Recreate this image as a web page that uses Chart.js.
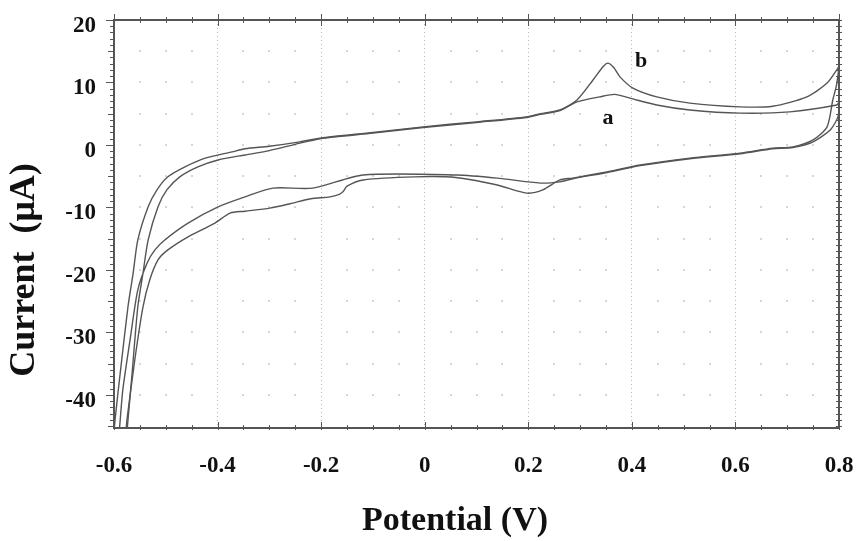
<!DOCTYPE html>
<html>
<head>
<meta charset="utf-8">
<title>Cyclic voltammogram</title>
<script src="https://cdn.jsdelivr.net/npm/chart.js@4.4.0/dist/chart.umd.min.js"></script>
<style>
  html, body { margin: 0; padding: 0; background: #fff; }
</style>
</head>
<body>
<canvas id="cvChart" width="859" height="541"></canvas>
<script>
// Curve a: forward scan (-0.6 -> 0.8 V) then reverse scan back
const potentialA = [
  -0.590, -0.588, -0.583, -0.569, -0.554, -0.536, -0.521, -0.502, -0.457, -0.399,
  -0.347, -0.293, -0.216, -0.119, 0.062, 0.140, 0.223, 0.261, 0.286, 0.352,
  0.416, 0.512, 0.609, 0.672, 0.711, 0.750, 0.783, 0.798, 0.800,
  0.796, 0.705, 0.609, 0.512, 0.448, 0.396, 0.367, 0.338, 0.294, 0.261,
  0.223, 0.197, 0.100, -0.003, -0.100, -0.202, -0.250, -0.300, -0.347, -0.399,
  -0.438, -0.473, -0.498, -0.515, -0.534, -0.544, -0.554, -0.565, -0.573, -0.575
];
const currentA = [
  -46, -44, -39.2, -31.2, -23.2, -18.9, -16.8, -15.2, -12.5, -9.9,
  -8.3, -6.9, -6.9, -4.8, -4.8, -5.3, -6.1, -5.9, -5.4, -4.4,
  -3.3, -2.2, -1.4, -0.6, -0.4, 0.5, 2.4, 4.5, 6.8,
  6.4, 5.3, 5.1, 5.6, 6.4, 7.5, 8.1, 7.7, 6.9, 5.5,
  4.9, 4.4, 3.6, 2.8, 1.9, 1.0, 0.1, -0.9, -1.6, -2.4,
  -3.5, -5.1, -7.2, -9.9, -15.2, -20.5, -25.9, -36.5, -44, -46
];

// Curve b: same loop with the redox peaks
const potentialB = [
  -0.600, -0.598, -0.588, -0.573, -0.563, -0.554, -0.534, -0.517, -0.496, -0.463,
  -0.424, -0.372, -0.347, -0.300, -0.241, -0.202, -0.100, -0.003, 0.100, 0.197,
  0.223, 0.261, 0.294, 0.325, 0.345, 0.354, 0.365, 0.377, 0.402, 0.448,
  0.512, 0.609, 0.672, 0.738, 0.777, 0.798, 0.800,
  0.795, 0.788, 0.777, 0.750, 0.711, 0.672, 0.609, 0.512, 0.416, 0.352,
  0.286, 0.261, 0.228, 0.197, 0.140, 0.060, -0.020, -0.119, -0.150, -0.158,
  -0.165, -0.183, -0.220, -0.260, -0.299, -0.347, -0.376, -0.405, -0.457, -0.496,
  -0.515, -0.531, -0.544, -0.559, -0.575, -0.577
];
const currentB = [
  -46, -44, -36.5, -25.9, -20.5, -15.2, -9.9, -7.2, -5.1, -3.5,
  -2.1, -1.1, -0.6, -0.2, 0.5, 1.1, 2.0, 2.9, 3.7, 4.5,
  5.0, 5.6, 7.2, 10.4, 12.6, 13.1, 12.4, 10.9, 9.1, 7.7,
  6.7, 6.1, 6.2, 7.7, 9.9, 12.3, 12.6,
  9.5, 7.2, 2.9, 0.8, -0.3, -0.5, -1.3, -2.1, -3.2, -4.3,
  -5.3, -5.6, -7.2, -7.7, -6.4, -5.2, -5.1, -5.6, -6.6, -7.5,
  -7.9, -8.3, -8.6, -9.4, -10.1, -10.6, -10.9, -12.5, -14.7, -16.8,
  -18.4, -21.6, -25.9, -33.9, -44, -46
];

// Axis ticks
const potentialTicks = [-0.6, -0.4, -0.2, 0, 0.2, 0.4, 0.6, 0.8];
const currentTicks = [-40, -30, -20, -10, 0, 10, 20];

// Curve labels (data coordinates)
const curveNames = ['a', 'b'];
const curveNameX = [0.354, 0.418];
const curveNameY = [4.2, 13.4];

const serif = '"Liberation Serif", "Times New Roman", serif';

function toPoints(xs, ys) {
  return xs.map((x, i) => ({ x: x, y: ys[i] }));
}

function fmt(v) {
  const r = Math.round(v * 10) / 10;
  return r === 0 ? '0' : String(r);
}

// Frame, minor ticks, faint dot grid, titles and curve names
const decorations = {
  id: 'decorations',
  beforeDatasetsDraw(chart) {
    const { ctx, scales } = chart;
    const x = scales.x, y = scales.y;
    ctx.save();
    ctx.fillStyle = '#d6d6d6';
    for (let i = 1; i < 28; i++) {
      if (i % 4 === 0) continue;
      const px = Math.round(x.getPixelForValue(-0.6 + i * 0.05));
      for (let c = -40; c < 20; c += 5) {
        const py = Math.round(y.getPixelForValue(c));
        ctx.fillRect(px - 1, py - 1, 2, 2);
      }
    }
    ctx.restore();
  },
  afterDatasetsDraw(chart) {
    const { ctx, chartArea, scales } = chart;
    const { left, right, top, bottom } = chartArea;
    const x = scales.x, y = scales.y;
    ctx.save();
    ctx.strokeStyle = '#555';
    ctx.lineWidth = 2;
    ctx.strokeRect(left, top, right - left, bottom - top);

    ctx.lineWidth = 1;
    ctx.beginPath();
    for (let i = 0; i <= 28; i++) {
      const px = Math.round(x.getPixelForValue(-0.6 + i * 0.05)) + 0.5;
      const len = i % 4 === 0 ? 6 : 3;
      ctx.moveTo(px, top - len); ctx.lineTo(px, top + len);
      ctx.moveTo(px, bottom - len); ctx.lineTo(px, bottom + 2);
    }
    for (let c = -45; c <= 20; c++) {
      const py = Math.round(y.getPixelForValue(c)) + 0.5;
      const len = c % 10 === 0 ? 8 : (c % 5 === 0 ? 6 : 4);
      ctx.moveTo(left - len, py); ctx.lineTo(left, py);
      ctx.moveTo(right - 3, py); ctx.lineTo(right + 3, py);
    }
    ctx.stroke();

    ctx.fillStyle = '#111';
    ctx.textAlign = 'center';
    ctx.textBaseline = 'middle';
    ctx.font = 'bold 22px ' + serif;
    curveNames.forEach((n, i) => {
      ctx.fillText(n, x.getPixelForValue(curveNameX[i]), y.getPixelForValue(curveNameY[i]));
    });

    ctx.font = 'bold 34px ' + serif;
    ctx.fillText('Potential (V)', 455, 521);
    ctx.translate(25, 270);
    ctx.rotate(-Math.PI / 2);
    ctx.font = 'bold 36px ' + serif;
    ctx.fillText('Current  (\u03bcA)', 0, 0);
    ctx.restore();
  }
};

const lineStyle = {
  borderColor: '#555',
  borderWidth: 1.4,
  pointRadius: 0,
  showLine: true,
  fill: false,
  tension: 0.25
};

new Chart(document.getElementById('cvChart').getContext('2d'), {
  type: 'scatter',
  data: {
    datasets: [
      Object.assign({ label: 'a', data: toPoints(potentialA, currentA) }, lineStyle),
      Object.assign({ label: 'b', data: toPoints(potentialB, currentB) }, lineStyle)
    ]
  },
  options: {
    responsive: false,
    animation: false,
    layout: { padding: { top: 20, right: 20, left: 0, bottom: 0 } },
    plugins: { legend: { display: false }, tooltip: { enabled: false } },
    scales: {
      x: {
        type: 'linear',
        min: -0.6,
        max: 0.8,
        afterFit: s => { s.height = 113; s.paddingLeft = 0; s.paddingRight = 0; },
        afterBuildTicks: s => { s.ticks = potentialTicks.map(v => ({ value: v })); },
        grid: { color: '#b8b8b8', lineWidth: 1, drawTicks: false },
        border: { display: false, dash: [1, 3] },
        ticks: {
          padding: 24,
          color: '#111',
          font: { family: serif, size: 23, weight: 'bold' },
          maxRotation: 0,
          callback: v => fmt(v)
        }
      },
      y: {
        type: 'linear',
        min: -45.3,
        max: 20,
        afterFit: s => { s.width = 114; s.paddingTop = 0; s.paddingBottom = 0; },
        afterBuildTicks: s => { s.ticks = currentTicks.map(v => ({ value: v })); },
        grid: { display: false, drawTicks: false },
        border: { display: false },
        ticks: {
          padding: 18,
          labelOffset: 6,
          color: '#111',
          font: { family: serif, size: 23, weight: 'bold' },
          callback: v => String(v)
        }
      }
    }
  },
  plugins: [decorations]
});
</script>
</body>
</html>
